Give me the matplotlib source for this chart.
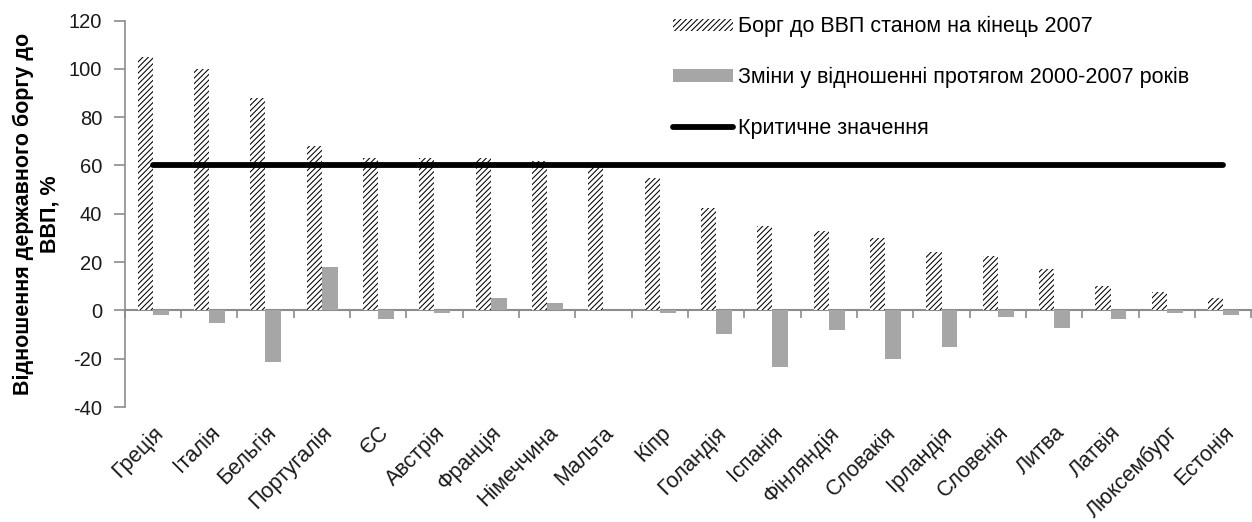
import matplotlib
matplotlib.use("Agg")
import matplotlib.pyplot as plt
import numpy as np
from matplotlib.patches import Patch
from matplotlib.lines import Line2D

countries = ["Греція", "Італія", "Бельгія", "Португалія", "ЄС", "Австрія", "Франція",
             "Німеччина", "Мальта", "Кіпр", "Голандія", "Іспанія", "Фінляндія", "Словакія",
             "Ірландія", "Словенія", "Литва", "Латвія", "Люксембург", "Естонія"]
debt_2007 = [105, 100, 88, 68, 63, 63, 63, 62, 60, 55, 42.5, 35, 32.8, 30, 24, 22.4, 17, 10.3, 7.7, 5.2]
change_2000_2007 = [-2, -5.3, -21.4, 18, -3.4, -1, 5, 3.2, 0.3, -1, -9.6, -23.3, -8, -20, -15, -2.7, -7.1, -3.5, -1, -2]
critical_value = 60
yticks = [-40, -20, 0, 20, 40, 60, 80, 100, 120]
legend_labels = ["Борг до ВВП станом на кінець 2007",
                 "Зміни у відношенні протягом 2000-2007 років",
                 "Критичне значення"]
ylabel = "Відношення державного боргу до\nВВП, %"

plt.rcParams['font.family'] = ['Liberation Sans', 'DejaVu Sans']
plt.rcParams['hatch.linewidth'] = 0.75

fig = plt.figure(figsize=(12.52, 5.22), dpi=100)
ax = fig.add_axes([0.0995, 0.2203, 0.9, 0.7404])

x = np.arange(len(countries))
w = 0.27
grey = "#a6a6a6"
axis_col = "#8c8c8c"
txt_col = "#1a1a1a"

ax.bar(x - w, debt_2007, width=w, align='edge', color='white', edgecolor='black',
       hatch='//////', linewidth=0, zorder=2)
ax.bar(x, change_2000_2007, width=w + 0.01, align='edge', color=grey, linewidth=0, zorder=2)
ax.plot([x[0], x[-1]], [critical_value, critical_value], color='black', lw=4.2,
        solid_capstyle='round', zorder=3)

ax.set_xlim(-0.5, len(countries) - 0.5)
ax.set_ylim(-40, 120)
ax.set_yticks(yticks)
ax.set_yticklabels([str(v) for v in yticks], fontsize=14.5, color=txt_col)
ax.tick_params(axis='y', direction='out', length=8, width=1.2, color=axis_col, pad=8)

for s in ['top', 'right', 'bottom']:
    ax.spines[s].set_visible(False)
ax.spines['left'].set_color(axis_col)
ax.spines['left'].set_linewidth(1.2)

ax.set_xticks(x)
ax.set_xticklabels(countries, rotation=45, ha='right', rotation_mode='anchor',
                   fontsize=15.5, color=txt_col)
ax.tick_params(axis='x', length=0, pad=11)

sec = ax.secondary_xaxis(0, transform=ax.transData)
sec.set_xticks(np.arange(len(countries) + 1) - 0.5)
sec.set_xticklabels([])
sec.tick_params(axis='x', direction='out', length=6, width=1.2, color=axis_col)
sec.spines['bottom'].set_color(axis_col)
sec.spines['bottom'].set_linewidth(1.5)

ax.set_ylabel(ylabel, fontsize=15.5, fontweight='bold', labelpad=6, linespacing=1.35)

handles = [Patch(facecolor='white', edgecolor='black', hatch='//////', linewidth=0),
           Patch(facecolor=grey, linewidth=0),
           Line2D([0], [0], color='black', lw=4.2, solid_capstyle='round')]
fig.legend(handles, legend_labels, loc='upper left', bbox_to_anchor=(0.522, 1.006),
           frameon=False, fontsize=15.5, handlelength=2.8, handleheight=0.5,
           handletextpad=0.2, labelspacing=1.38)

fig.savefig("out.png", dpi=100)
